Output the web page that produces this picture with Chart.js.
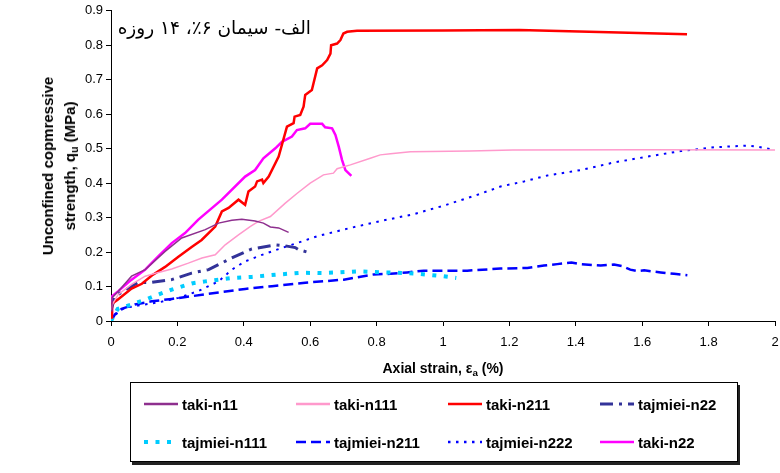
<!DOCTYPE html>
<html>
<head>
<meta charset="utf-8">
<script src="https://cdn.jsdelivr.net/npm/chart.js@4.4.1/dist/chart.umd.min.js"></script>
<style>
    body { margin: 0; background: #fff; }
    #wrap { position: relative; width: 780px; height: 473px; font-family: "Liberation Sans", Arial, sans-serif; color: #000; }
    #chart { position: absolute; left: 0; top: 0; }
    .title-fa { position: absolute; left: 110px; top: 17px; width: 201px; direction: rtl; text-align: right; font: 18.5px "DejaVu Sans"; }
    .ytitle { position: absolute; left: 59px; top: 166px; transform: translate(-50%, -50%) rotate(-90deg); font-weight: bold; font-size: 15px; line-height: 22px; text-align: center; white-space: nowrap; }
    .xtitle { position: absolute; left: 443px; top: 368px; transform: translate(-50%, -50%); font-weight: bold; font-size: 14px; white-space: nowrap; }
    sub { font-size: 70%; vertical-align: -3px; line-height: 0; }
    #legend { position: absolute; left: 130px; top: 382px; width: 606px; height: 78px; border: 1px solid #000; box-shadow: 2px 3px 0 #222; background: #fff; }
    .item { position: absolute; height: 20px; display: flex; align-items: center; font-weight: bold; font-size: 15px; white-space: nowrap; }
    .item svg { margin-right: 4px; }
</style>
</head>
<body>
<div id="wrap">
    <canvas id="chart" width="780" height="473"></canvas>
    <div class="title-fa">الف- سیمان ۶٪، ۱۴ روزه</div>
    <div class="ytitle">Unconfined copmressive<br>strength, q<sub>u</sub> (MPa)</div>
    <div class="xtitle">Axial strain, ε<sub>a</sub> (%)</div>
    <div id="legend"></div>
</div>
<script>
// tick labels
const xTickLabels = ['0', '0.2', '0.4', '0.6', '0.8', '1', '1.2', '1.4', '1.6', '1.8', '2'];
const yTickLabels = ['0', '0.1', '0.2', '0.3', '0.4', '0.5', '0.6', '0.7', '0.8', '0.9'];

// series names
const seriesNames = ['taki-n11', 'taki-n111', 'taki-n211', 'tajmiei-n22',
    'tajmiei-n111', 'tajmiei-n211', 'tajmiei-n222', 'taki-n22'];

// strain (%) and strength (MPa)
const takiN11X = [0, 0.003, 0.022, 0.062, 0.103, 0.163, 0.213, 0.284, 0.324, 0.364, 0.394, 0.434, 0.459, 0.48, 0.505, 0.535];
const takiN11Y = [0.03, 0.067, 0.086, 0.13, 0.149, 0.202, 0.241, 0.265, 0.284, 0.292, 0.295, 0.29, 0.284, 0.273, 0.27, 0.257];

const takiN111X = [0, 0.005, 0.022, 0.062, 0.103, 0.143, 0.183, 0.233, 0.274, 0.314, 0.344, 0.384, 0.419, 0.444, 0.48, 0.525, 0.56, 0.6, 0.64, 0.67, 0.681, 0.721, 0.781, 0.811, 0.842, 0.902, 1.08, 1.21, 1.6, 2.0];
const takiN111Y = [0.03, 0.05, 0.077, 0.106, 0.13, 0.141, 0.151, 0.168, 0.183, 0.192, 0.221, 0.25, 0.274, 0.289, 0.303, 0.342, 0.37, 0.4, 0.424, 0.429, 0.442, 0.453, 0.472, 0.482, 0.485, 0.491, 0.493, 0.496, 0.497, 0.496];

const takiN211X = [0, 0.003, 0.02, 0.062, 0.093, 0.123, 0.163, 0.202, 0.243, 0.273, 0.314, 0.334, 0.354, 0.384, 0.404, 0.414, 0.434, 0.44, 0.455, 0.459, 0.475, 0.505, 0.53, 0.55, 0.553, 0.57, 0.58, 0.585, 0.605, 0.621, 0.636, 0.651, 0.661, 0.663, 0.681, 0.691, 0.70, 0.711, 0.741, 1.0, 1.23, 1.5, 1.735];
const takiN211Y = [0.01, 0.05, 0.062, 0.094, 0.108, 0.132, 0.157, 0.186, 0.215, 0.235, 0.274, 0.318, 0.328, 0.352, 0.337, 0.376, 0.39, 0.405, 0.41, 0.40, 0.419, 0.477, 0.564, 0.574, 0.593, 0.598, 0.622, 0.656, 0.670, 0.733, 0.742, 0.757, 0.776, 0.80, 0.805, 0.815, 0.834, 0.839, 0.842, 0.843, 0.844, 0.838, 0.832];

const tajN22X = [0, 0.012, 0.082, 0.123, 0.183, 0.243, 0.294, 0.364, 0.424, 0.495, 0.525, 0.555, 0.565, 0.595];
const tajN22Y = [0.03, 0.072, 0.112, 0.112, 0.12, 0.139, 0.149, 0.183, 0.209, 0.221, 0.218, 0.213, 0.207, 0.199];

const tajN111X = [0, 0.02, 0.062, 0.103, 0.143, 0.183, 0.243, 0.284, 0.324, 0.364, 0.424, 0.505, 0.575, 0.64, 0.741, 0.822, 0.892, 0.927, 0.967, 1.0, 1.04];
const tajN111Y = [0, 0.035, 0.048, 0.062, 0.077, 0.091, 0.109, 0.115, 0.12, 0.125, 0.128, 0.135, 0.14, 0.139, 0.144, 0.141, 0.139, 0.137, 0.133, 0.13, 0.125];

const tajN211X = [0, 0.012, 0.032, 0.072, 0.123, 0.183, 0.243, 0.324, 0.404, 0.485, 0.585, 0.701, 0.791, 0.842, 0.892, 0.942, 1.073, 1.173, 1.254, 1.304, 1.344, 1.387, 1.413, 1.475, 1.515, 1.54, 1.564, 1.585, 1.606, 1.656, 1.696, 1.736];
const tajN211Y = [0, 0.019, 0.035, 0.048, 0.057, 0.064, 0.072, 0.083, 0.093, 0.101, 0.111, 0.12, 0.135, 0.137, 0.141, 0.146, 0.146, 0.152, 0.154, 0.161, 0.165, 0.17, 0.165, 0.161, 0.164, 0.159, 0.149, 0.145, 0.147, 0.141, 0.137, 0.133];

const tajN222X = [0, 0.022, 0.042, 0.082, 0.143, 0.203, 0.263, 0.324, 0.364, 0.404, 0.455, 0.515, 0.585, 0.621, 0.721, 0.822, 0.912, 1.0, 1.103, 1.173, 1.244, 1.314, 1.415, 1.515, 1.616, 1.716, 1.817, 1.917, 1.947, 2.0];
const tajN222Y = [0, 0.028, 0.038, 0.045, 0.054, 0.067, 0.087, 0.115, 0.149, 0.173, 0.192, 0.212, 0.234, 0.246, 0.27, 0.292, 0.31, 0.334, 0.366, 0.39, 0.405, 0.422, 0.438, 0.46, 0.477, 0.493, 0.504, 0.509, 0.506, 0.496];

const takiN22X = [0, 0.003, 0.021, 0.062, 0.103, 0.143, 0.183, 0.223, 0.263, 0.334, 0.404, 0.434, 0.459, 0.495, 0.515, 0.545, 0.56, 0.585, 0.6, 0.636, 0.645, 0.666, 0.676, 0.686, 0.696, 0.706, 0.724];
const takiN22Y = [0.02, 0.072, 0.086, 0.12, 0.149, 0.188, 0.226, 0.255, 0.294, 0.352, 0.419, 0.438, 0.472, 0.501, 0.52, 0.535, 0.554, 0.559, 0.572, 0.572, 0.562, 0.559, 0.54, 0.506, 0.467, 0.438, 0.421];

function pts(xs, ys) {
    return xs.map(function (x, i) { return { x: x, y: ys[i] }; });
}

function series(i, xs, ys, color, width, dash) {
    return {
        label: seriesNames[i],
        data: pts(xs, ys),
        borderColor: color,
        backgroundColor: color,
        borderWidth: width,
        borderDash: dash,
        showLine: true,
        pointRadius: 0,
        tension: 0,
        fill: false
    };
}

const datasets = [
    series(0, takiN11X, takiN11Y, '#8e2f8e', 1.5, []),
    series(1, takiN111X, takiN111Y, '#ff99cc', 1.5, []),
    series(2, takiN211X, takiN211Y, '#ff0000', 2.5, []),
    series(3, tajN22X, tajN22Y, '#333399', 3, [13, 6, 3, 6]),
    series(4, tajN111X, tajN111Y, '#00ccff', 4, [4, 7.5]),
    series(5, tajN211X, tajN211Y, '#0000ff', 2.5, [10, 5]),
    series(6, tajN222X, tajN222Y, '#0000ff', 2, [2.5, 5.5]),
    series(7, takiN22X, takiN22Y, '#ff00ff', 2.5, [])
];

const tickFont = { family: 'Liberation Sans', size: 13 };

const chart = new Chart(document.getElementById('chart'), {
    type: 'scatter',
    data: { datasets: datasets },
    options: {
        responsive: false,
        animation: false,
        layout: { padding: { left: 0, top: 10, right: 5, bottom: 112 } },
        plugins: {
            legend: { display: false },
            tooltip: { enabled: false }
        },
        scales: {
            x: {
                type: 'linear',
                min: 0,
                max: 2,
                ticks: {
                    stepSize: 0.2,
                    color: '#000',
                    font: tickFont,
                    padding: 9,
                    maxRotation: 0,
                    callback: function (value, index) { return xTickLabels[index]; }
                },
                grid: { drawOnChartArea: false, drawTicks: true, tickLength: 5, color: '#000' },
                border: { display: true, color: '#000', width: 1 },
                afterFit: function (scale) {
                    scale.height = 40;
                    scale.paddingLeft = 0;
                    scale.paddingRight = 0;
                }
            },
            y: {
                type: 'linear',
                min: 0,
                max: 0.9,
                ticks: {
                    stepSize: 0.1,
                    color: '#000',
                    font: tickFont,
                    padding: 3,
                    callback: function (value, index) { return yTickLabels[index]; }
                },
                grid: { drawOnChartArea: false, drawTicks: true, tickLength: 5, color: '#000' },
                border: { display: true, color: '#000', width: 1 },
                afterFit: function (scale) { scale.width = 111; }
            }
        }
    }
});

// HTML legend, 4 columns x 2 rows
const legend = document.getElementById('legend');
chart.data.datasets.forEach(function (ds, i) {
    const col = i % 4;
    const row = Math.floor(i / 4);
    const item = document.createElement('div');
    item.className = 'item';
    item.style.left = (13 + col * 152) + 'px';
    item.style.top = (11 + row * 38) + 'px';
    const dash = ds.borderDash.length ? ds.borderDash.join(' ') : 'none';
    item.innerHTML = '<svg width="34" height="8"><line x1="0" y1="4" x2="34" y2="4" stroke="' + ds.borderColor +
        '" stroke-width="' + Math.max(ds.borderWidth, 2.5) + '" stroke-dasharray="' + dash + '"/></svg>' +
        '<span>' + ds.label + '</span>';
    legend.appendChild(item);
});
</script>
</body>
</html>
